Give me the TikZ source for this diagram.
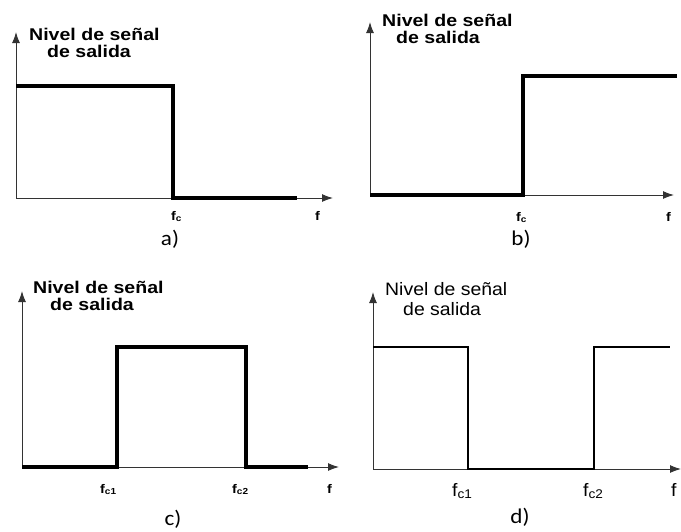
\documentclass[tikz,border=0pt]{standalone}
\usepackage{fontspec}
\usetikzlibrary{arrows.meta}
\newfontfamily\labbold[FakeStretch=1.15]{Liberation Sans}
\newfontfamily\labreg[FakeStretch=1.08]{Liberation Sans}
\newfontfamily\capfont[FakeStretch=1.1]{Carlito}
\tikzset{
  axisline/.style={line width=1pt, draw=black!80, -{Latex[length=11pt,width=8pt]}},
  curve/.style={line width=3.6pt, line join=miter, line cap=butt},
  curved/.style={line width=2.8pt, line join=miter, line cap=butt},
  ttl/.style={anchor=base west, inner sep=0pt, font=\labbold\bfseries\fontsize{17}{18}\selectfont},
  ttld/.style={anchor=base west, inner sep=0pt, font=\labreg\fontsize{18}{20}\selectfont},
  ticklab/.style={anchor=base west, inner sep=0pt, font=\labbold\bfseries\fontsize{12.5}{13}\selectfont},
  ticklabd/.style={anchor=base west, inner sep=0pt, font=\labreg\fontsize{18}{20}\selectfont},
  panelcap/.style={anchor=center, inner sep=0pt, font=\capfont\fontsize{21}{24}\selectfont}
}
\begin{document}
\begin{tikzpicture}[x=1pt,y=-1pt]
\useasboundingbox (0,0) rectangle (681,531);
% ---------- a) ----------
\coordinate (ao) at (16,198);
\coordinate (ay) at (16,32);
\coordinate (ax) at (333,198);
\draw[axisline] (ao) -- (ay);
\draw[axisline] (ao) -- (ax);
\coordinate (a1) at (16,86);
\coordinate (a2) at (173,86);
\coordinate (a3) at (173,198);
\coordinate (a4) at (297,198);
\draw[curve] (a1) -- (a2) -- (a3) -- (a4);
\node[ttl] (at1) at (29,40) {Nivel de señal};
\node[ttl] (at2) at (47,57) {de salida};
\node[ticklab] (afc) at (171,220) {f\textsubscript{c}};
\node[ticklab] (af) at (315,220) {f};
\node[panelcap] (acap) at (170,239) {a)};
% ---------- b) ----------
\coordinate (bo) at (370,195);
\coordinate (by) at (370,22);
\coordinate (bx) at (674,195);
\draw[axisline] (bo) -- (by);
\draw[axisline] (bo) -- (bx);
\coordinate (b2) at (523,195);
\coordinate (b3) at (523,76);
\coordinate (b4) at (677,76);
\draw[curve] (bo) -- (b2) -- (b3) -- (b4);
\node[ttl] (bt1) at (382,26) {Nivel de señal};
\node[ttl] (bt2) at (396,43) {de salida};
\node[ticklab] (bfc) at (516,221) {f\textsubscript{c}};
\node[ticklab] (bf) at (666,221) {f};
\node[panelcap] (bcap) at (521,239) {b)};
% ---------- c) ----------
\coordinate (co) at (22,467);
\coordinate (cy) at (22,291);
\coordinate (cx) at (339,467);
\draw[axisline] (co) -- (cy);
\draw[axisline] (co) -- (cx);
\coordinate (c2) at (117,467);
\coordinate (c3) at (117,347);
\coordinate (c4) at (246,347);
\coordinate (c5) at (246,467);
\coordinate (c6) at (308,467);
\draw[curve] (co) -- (c2) -- (c3) -- (c4) -- (c5) -- (c6);
\node[ttl] (ct1) at (33,293) {Nivel de señal};
\node[ttl] (ct2) at (50,310) {de salida};
\node[ticklab] (cf1) at (100,493) {f\textsubscript{c1}};
\node[ticklab] (cf2) at (232,493) {f\textsubscript{c2}};
\node[ticklab] (cf) at (327,493) {f};
\node[panelcap] (ccap) at (173,519) {c)};
% ---------- d) ----------
\coordinate (do) at (373,469);
\coordinate (dy) at (373,292);
\coordinate (dx) at (681,469);
\draw[axisline] (do) -- (dy);
\draw[axisline] (do) -- (dx);
\coordinate (d1) at (373,347);
\coordinate (d2) at (468,347);
\coordinate (d3) at (468,469);
\coordinate (d4) at (594,469);
\coordinate (d5) at (594,347);
\coordinate (d6) at (670,347);
\draw[curved] (d1) -- (d2) -- (d3) -- (d4) -- (d5) -- (d6);
\node[ttld] (dt1) at (385,295) {Nivel de señal};
\node[ttld] (dt2) at (403,315) {de salida};
\node[ticklabd] (df1) at (452,496) {f\textsubscript{c1}};
\node[ticklabd] (df2) at (583,496) {f\textsubscript{c2}};
\node[ticklabd] (df) at (671,496) {f};
\node[panelcap] (dcap) at (520,517) {d)};
\end{tikzpicture}
\end{document}
